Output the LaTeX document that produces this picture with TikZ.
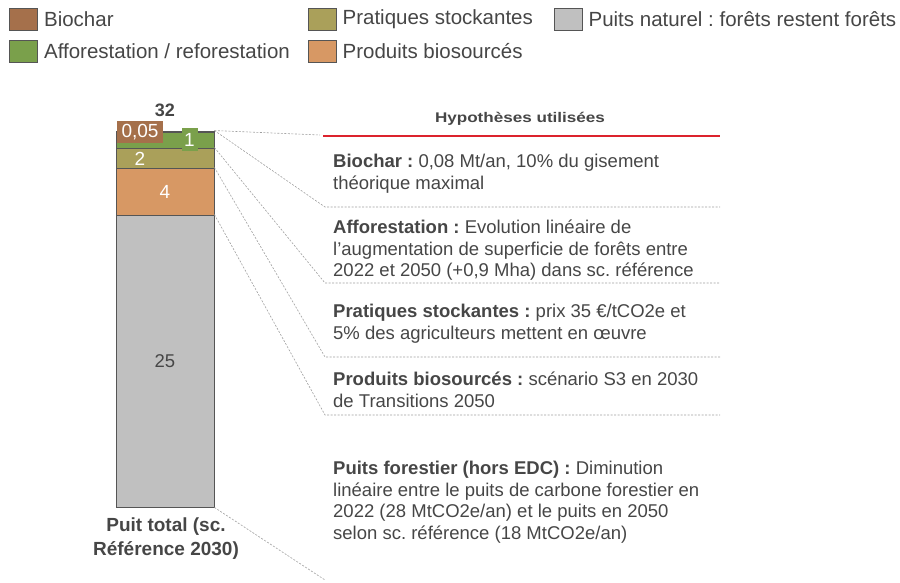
\documentclass[tikz,border=0pt]{standalone}
\usepackage{fontspec}
\setmainfont{Liberation Sans}
\newfontfamily\headfont[FakeStretch=1.22]{Liberation Sans}
\usetikzlibrary{positioning}
\frenchspacing

\definecolor{biochar}{RGB}{165,112,75}
\definecolor{affor}{RGB}{122,160,75}
\definecolor{pratiq}{RGB}{170,160,90}
\definecolor{produit}{RGB}{215,152,100}
\definecolor{naturel}{RGB}{192,192,192}
\definecolor{barline}{RGB}{85,85,85}
\definecolor{txt}{RGB}{70,70,70}
\definecolor{rouge}{RGB}{220,35,45}

\begin{document}
\begin{tikzpicture}[x=1pt,y=-1pt,
        legbox/.style={draw=barline,line width=0.8pt,minimum width=28pt,minimum height=22pt,inner sep=0pt},
        legtext/.style={right=6pt of #1,inner sep=0pt,text=txt,font=\fontsize{20.5}{24}\selectfont},
        seg/.style={draw=barline,line width=0.9pt,minimum width=98pt,inner sep=0pt},
        val/.style={text=white,font=\fontsize{19}{22}\selectfont,inner sep=1pt},
        hyp/.style={anchor=north west,align=left,inner sep=0pt,text=txt,font=\fontsize{18.5}{21.5}\selectfont},
        sep/.style={draw=gray!75,line width=0.6pt,dash pattern=on 2pt off 1.5pt}]

        \useasboundingbox (0,0) rectangle (900,583);

        % legende
        \node[legbox,fill=biochar] (L1) at (23.5,19.5) {};
        \node[legtext=L1] {Biochar};
        \node[legbox,fill=affor] (L2) at (23.5,51) {};
        \node[legtext=L2] {Afforestation / reforestation};
        \node[legbox,fill=pratiq] (L3) at (322,19.5) {};
        \node[legtext=L3] {Pratiques stockantes};
        \node[legbox,fill=produit] (L4) at (322,51) {};
        \node[legtext=L4] {Produits biosourcés};
        \node[legbox,fill=naturel] (L5) at (568,19.5) {};
        \node[legtext=L5] {Puits naturel : forêts restent forêts};

        % barre
        \node[seg,fill=naturel,minimum height=292pt] (nat) at (165,361) {};
        \node[seg,fill=produit,minimum height=47pt] (prod) at (165,191.5) {};
        \node[seg,fill=pratiq,minimum height=20pt] (prat) at (165,158) {};
        \node[seg,fill=affor,minimum height=16pt] (aff) at (165,140) {};
        \node[seg,fill=biochar,minimum height=1pt] (bio) at (165,131.5) {};

        \node[text=txt,font=\fontsize{18.5}{22}\selectfont] (v25) at (165,361) {25};
        \node[val] (v4) at (165,192) {4};
        \node[val] (v2) at (140,159) {2};
        \node[val,fill=affor,minimum width=16pt,minimum height=23pt] (v1) at (189.5,140) {1};
        \node[val,fill=biochar,minimum width=46pt,minimum height=22pt] (v005) at (140,132.5) {0,05};
        \node[text=txt,font=\bfseries\fontsize{18}{22}\selectfont] (tot) at (165,110) {32};

        \node[text=txt,align=center,font=\bfseries\fontsize{19}{24}\selectfont] (titre) at (166,539) {Puit total (sc.\\Référence 2030)};

        % hypotheses
        \node[text=txt,font=\headfont\bfseries\fontsize{14}{16}\selectfont] (hdr) at (520,119) {Hypothèses utilisées};
        \coordinate (r0) at (323,136);
        \coordinate (r1) at (720,136);
        \draw[rouge,line width=1.2pt] (r0) -- (r1);

        \node[hyp] (h1) at (333,154) {\textbf{Biochar :} 0,08 Mt/an, 10\% du gisement\\théorique maximal};
        \node[hyp] (h2) at (333,220) {\textbf{Afforestation :} Evolution linéaire de\\l’augmentation de superficie de forêts entre\\2022 et 2050 (+0,9 Mha) dans sc. référence};
        \node[hyp] (h3) at (333,304) {\textbf{Pratiques stockantes :} prix 35 €/tCO2e et\\5\% des agriculteurs mettent en œuvre};
        \node[hyp] (h4) at (333,372) {\textbf{Produits biosourcés :} scénario S3 en 2030\\de Transitions 2050};
        \node[hyp] (h5) at (333,461) {\textbf{Puits forestier (hors EDC) :} Diminution\\linéaire entre le puits de carbone forestier en\\2022 (28 MtCO2e/an) et le puits en 2050\\selon sc. référence (18 MtCO2e/an)};

        \coordinate (s0) at (320,135);
        \coordinate (s1) at (325,207);
        \coordinate (s2) at (325,283);
        \coordinate (s3) at (325,357);
        \coordinate (s4) at (325,415);
        \coordinate (s5) at (325,580);

        \draw[sep] (bio.north east) -- (s0);
        \draw[sep] (bio.north east) -- (s1) -- (s1 -| r1);
        \draw[sep] (prat.north east) -- (s2) -- (s2 -| r1);
        \draw[sep] (prod.north east) -- (s3) -- (s3 -| r1);
        \draw[sep] (nat.north east) -- (s4) -- (s4 -| r1);
        \draw[sep] (nat.south east) -- (s5);

    \end{tikzpicture}
\end{document}
